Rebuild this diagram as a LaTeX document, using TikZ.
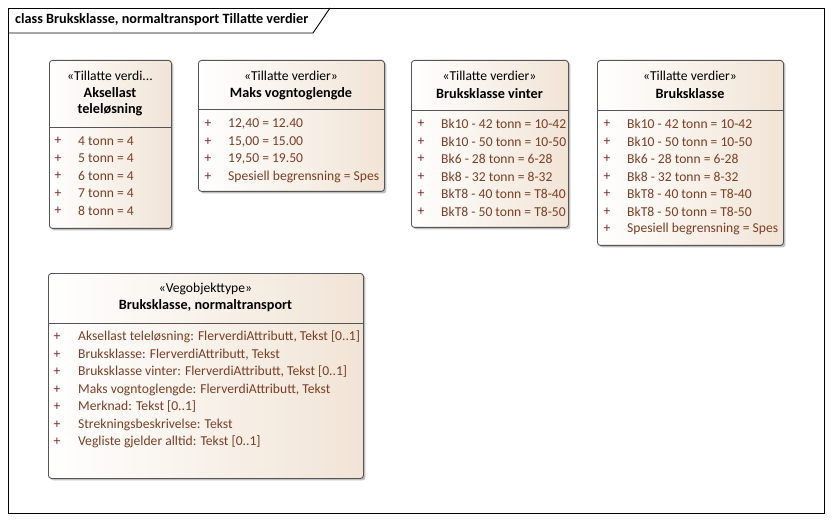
\documentclass[tikz,border=0pt]{standalone}
\usepackage{fontspec}
\setmainfont{Carlito}
\usetikzlibrary{shadows}
\definecolor{boxfill}{RGB}{241,228,214}
\definecolor{boxline}{RGB}{85,85,85}
\definecolor{attrcol}{RGB}{125,62,35}
\definecolor{pluscol}{RGB}{140,35,35}
\begin{document}
\begin{tikzpicture}[x=1pt,y=-1pt,
  font=\fontsize{13.6}{15}\selectfont,
  umlbox/.style={draw=boxline, line width=0.9pt, rounded corners=3pt, anchor=north west,
    left color=white, right color=boxfill, inner sep=0pt,
    drop shadow={shadow xshift=2pt, shadow yshift=-2pt, opacity=0.25, fill=black}},
  sepline/.style={draw=boxline, line width=0.8pt},
  plusn/.style={text=pluscol, inner sep=0pt, anchor=center},
  attr/.style={text=attrcol, inner sep=0pt, anchor=west},
  stereo/.style={text=black, inner sep=0pt, anchor=center},
  cname/.style={text=black, inner sep=0pt, anchor=center, font=\fontsize{14.2}{16}\selectfont\bfseries},
  frameline/.style={draw=black, line width=0.9pt}
]
\useasboundingbox (0,0) rectangle (832,521);
\fill[white] (0,0) rectangle (832,521);

% frame
\draw[frameline] (8,8) rectangle (824,513);
\coordinate (tabA) at (8,33);
\coordinate (tabB) at (313,33);
\coordinate (tabC) at (330,8);
\draw[frameline] (tabA) -- (tabB) -- (tabC);
\node[inner sep=0pt, anchor=west, font=\fontsize{14.2}{16}\selectfont\bfseries] (title) at (15,20) {class Bruksklasse, normaltransport Tillatte verdier};

% Box 1
\node[umlbox, minimum width=122pt, minimum height=168pt] (b1) at (49,60) {};
\draw[sepline] (49,127) -- (171,127);
\node[stereo] (b1s) at (110,76) {«Tillatte verdi...};
\node[cname] (b1n) at (110,93) {Aksellast};
\node[cname] (b1n2) at (110,110) {teleløsning};
\foreach \t [count=\i] in {{4 tonn = 4},{5 tonn = 4},{6 tonn = 4},{7 tonn = 4},{8 tonn = 4}} {
  \node[plusn] (b1p\i) at (58,141+17.5*\i-17.5) {+};
  \node[attr] (b1a\i) at (78,141+17.5*\i-17.5) {\t};
}

% Box 2
\node[umlbox, minimum width=186pt, minimum height=131pt] (b2) at (198,60) {};
\draw[sepline] (198,109) -- (384,109);
\node[stereo] (b2s) at (291,76) {«Tillatte verdier»};
\node[cname] (b2n) at (291,94) {Maks vogntoglengde};
\foreach \t [count=\i] in {{12,40 = 12.40},{15,00 = 15.00},{19,50 = 19.50},{Spesiell begrensning = Spes}} {
  \node[plusn] (b2p\i) at (208,124+17.5*\i-17.5) {+};
  \node[attr] (b2a\i) at (228,124+17.5*\i-17.5) {\t};
}

% Box 3
\node[umlbox, minimum width=157pt, minimum height=167pt] (b3) at (411,60) {};
\draw[sepline] (411,110) -- (568,110);
\node[stereo] (b3s) at (489.5,76) {«Tillatte verdier»};
\node[cname] (b3n) at (489.5,94) {Bruksklasse vinter};
\foreach \t [count=\i] in {{Bk10 - 42 tonn = 10-42},{Bk10 - 50 tonn = 10-50},{Bk6 - 28 tonn = 6-28},{Bk8 - 32 tonn = 8-32},{BkT8 - 40 tonn = T8-40},{BkT8 - 50 tonn = T8-50}} {
  \node[plusn] (b3p\i) at (421,124+17.5*\i-17.5) {+};
  \node[attr] (b3a\i) at (441,124+17.5*\i-17.5) {\t};
}

% Box 4
\node[umlbox, minimum width=186pt, minimum height=185pt] (b4) at (597,60) {};
\draw[sepline] (597,110) -- (783,110);
\node[stereo] (b4s) at (690,76) {«Tillatte verdier»};
\node[cname] (b4n) at (690,94) {Bruksklasse};
\foreach \t [count=\i] in {{Bk10 - 42 tonn = 10-42},{Bk10 - 50 tonn = 10-50},{Bk6 - 28 tonn = 6-28},{Bk8 - 32 tonn = 8-32},{BkT8 - 40 tonn = T8-40},{BkT8 - 50 tonn = T8-50},{Spesiell begrensning = Spes}} {
  \node[plusn] (b4p\i) at (607,124+17.5*\i-17.5) {+};
  \node[attr] (b4a\i) at (627,124+17.5*\i-17.5) {\t};
}

% Box 5
\node[umlbox, minimum width=315pt, minimum height=205pt] (b5) at (48,273) {};
\draw[sepline] (48,323) -- (363,323);
\node[stereo] (b5s) at (205.5,289) {«Vegobjekttype»};
\node[cname] (b5n) at (205.5,306) {Bruksklasse, normaltransport};
\foreach \t [count=\i] in {{Aksellast teleløsning: FlerverdiAttributt, Tekst [0..1]},{Bruksklasse: FlerverdiAttributt, Tekst},{Bruksklasse vinter: FlerverdiAttributt, Tekst [0..1]},{Maks vogntoglengde: FlerverdiAttributt, Tekst},{Merknad: Tekst [0..1]},{Strekningsbeskrivelse: Tekst},{Vegliste gjelder alltid: Tekst [0..1]}} {
  \node[plusn] (b5p\i) at (57,337+17.5*\i-17.5) {+};
  \node[attr] (b5a\i) at (78,337+17.5*\i-17.5) {\t};
}
\end{tikzpicture}
\end{document}
